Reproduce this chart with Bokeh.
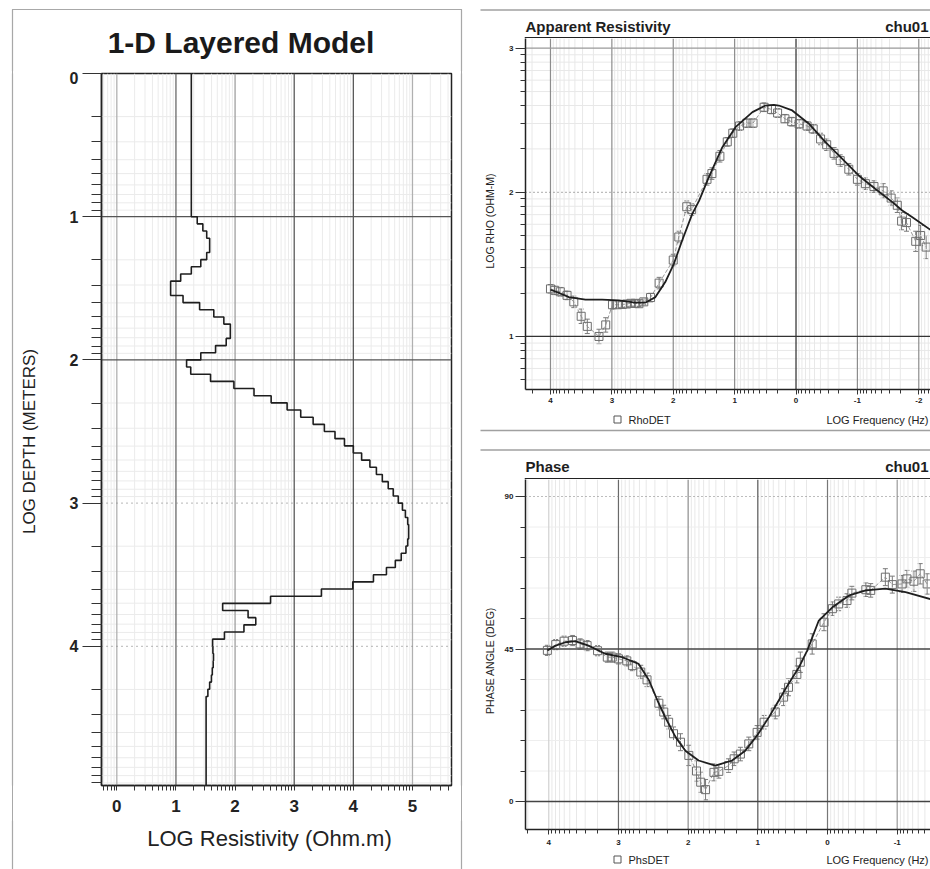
import numpy as np
from bokeh.plotting import figure
from bokeh.layouts import row, column
from bokeh.models import (Range1d, FixedTicker, Whisker, TeeHead, ColumnDataSource,
                          InlineStyleSheet)
from bokeh.core.properties import value
from bokeh.embed import file_html
from bokeh.resources import INLINE

FONT = "Liberation Sans"
INK = "#1e1e1e"
RULE = "#a0a0a0"

# ---------------------------------------------------------------------------
# 1-D layered model: top of each layer (log10 depth, m) and log10 resistivity
# ---------------------------------------------------------------------------
layer_top_log_depth = [
    0.00, 1.00, 1.05, 1.10, 1.15, 1.20, 1.25, 1.30, 1.35, 1.40, 1.45, 1.50,
    1.55, 1.60, 1.65, 1.70, 1.75, 1.80, 1.85, 1.90, 1.95, 2.00, 2.05, 2.10,
    2.15, 2.20, 2.25, 2.30, 2.35, 2.40, 2.45, 2.50, 2.55, 2.60, 2.65, 2.70,
    2.75, 2.80, 2.85, 2.90, 2.95, 3.00, 3.05, 3.10, 3.15, 3.20, 3.25, 3.30,
    3.35, 3.40, 3.45, 3.50, 3.55, 3.60, 3.65, 3.70, 3.75, 3.80, 3.85, 3.90,
    3.95, 4.00, 4.05, 4.10, 4.15, 4.20, 4.25, 4.30, 4.35,
]
layer_log_res = [
    1.26, 1.36, 1.455, 1.52, 1.57, 1.57, 1.52, 1.42, 1.26, 1.08, 0.91, 0.91,
    1.12, 1.40, 1.64, 1.81, 1.92, 1.92, 1.85, 1.67, 1.42, 1.18, 1.25, 1.585,
    1.98, 2.32, 2.61, 2.88, 3.11, 3.32, 3.51, 3.69, 3.85, 4.00, 4.14, 4.28,
    4.39, 4.49, 4.59, 4.675, 4.76, 4.83, 4.88, 4.92, 4.935, 4.935, 4.92, 4.89,
    4.81, 4.71, 4.56, 4.34, 3.99, 3.46, 2.60, 1.79, 2.22, 2.35, 2.15, 1.82,
    1.62, 1.625, 1.635, 1.63, 1.615, 1.60, 1.57, 1.54, 1.51,
]
model_base_log_depth = 4.972

# ---------------------------------------------------------------------------
# Apparent resistivity sounding (log10 frequency, log10 rho, error) and fit
# ---------------------------------------------------------------------------
rho_log_freq = [
    4.00, 3.93, 3.84, 3.73, 3.62, 3.50, 3.40, 3.21, 3.10, 2.99, 2.91, 2.83,
    2.76, 2.69, 2.62, 2.56, 2.48, 2.37, 2.23, 2.00, 1.91, 1.78, 1.70, 1.45,
    1.37, 1.24, 1.12, 1.03, 0.92, 0.80, 0.70, 0.52, 0.40, 0.30, 0.18, 0.07,
    -0.05, -0.18, -0.28, -0.40, -0.50, -0.62, -0.72, -0.86, -1.00, -1.13,
    -1.27, -1.42, -1.55, -1.65, -1.72, -1.80, -1.95, -2.03, -2.12,
]
rho_log_rho = [
    1.33, 1.32, 1.31, 1.285, 1.24, 1.14, 1.07, 1.00, 1.08, 1.22, 1.22, 1.222,
    1.225, 1.23, 1.23, 1.227, 1.24, 1.27, 1.37, 1.53, 1.69, 1.90, 1.88, 2.09,
    2.13, 2.25, 2.35, 2.41, 2.46, 2.48, 2.48, 2.59, 2.575, 2.55, 2.51, 2.49,
    2.475, 2.46, 2.44, 2.37, 2.33, 2.27, 2.22, 2.16, 2.09, 2.06,
    2.04, 2.01, 1.96, 1.91, 1.80, 1.79, 1.66, 1.70, 1.62,
]
rho_err = [
    0.03, 0.03, 0.03, 0.03, 0.04, 0.05, 0.05, 0.05, 0.05, 0.03, 0.02, 0.02,
    0.02, 0.02, 0.02, 0.02, 0.02, 0.03, 0.04, 0.04, 0.04, 0.04, 0.04, 0.04,
    0.04, 0.04, 0.03, 0.03, 0.03, 0.03, 0.03, 0.03, 0.03, 0.03, 0.03, 0.03,
    0.03, 0.03, 0.03, 0.04, 0.04, 0.04, 0.04, 0.04, 0.04, 0.04,
    0.04, 0.05, 0.05, 0.05, 0.06, 0.06, 0.07, 0.07, 0.08,
]
rho_fit_log_freq = [
    4.00, 3.85, 3.70, 3.43, 3.16, 2.89, 2.62, 2.45, 2.29, 2.13, 1.99, 1.855,
    1.69, 1.58, 1.42, 1.20, 0.986, 0.71, 0.50, 0.36, 0.28, 0.062, -0.21,
    -0.48, -0.75, -1.02, -1.29, -1.57, -1.73, -1.89, -2.19,
]
rho_fit_log_rho = [
    1.324, 1.30, 1.273, 1.255, 1.255, 1.25, 1.235, 1.235, 1.273, 1.377, 1.504,
    1.666, 1.85, 1.94, 2.105, 2.313, 2.452, 2.556, 2.602, 2.607, 2.602, 2.568,
    2.476, 2.348, 2.233, 2.117, 2.025, 1.932, 1.874, 1.828, 1.74,
]

# ---------------------------------------------------------------------------
# Phase sounding (log10 frequency, degrees, error) and fit
# ---------------------------------------------------------------------------
phs_log_freq = [
    4.02, 3.90, 3.78, 3.66, 3.55, 3.45, 3.30, 3.16, 3.09, 3.00, 2.88, 2.80,
    2.68, 2.59, 2.42, 2.35, 2.28, 2.21, 2.11, 1.99, 1.88, 1.82, 1.75, 1.63,
    1.56, 1.42, 1.34, 1.25, 1.13, 1.01, 0.91, 0.75, 0.63, 0.56, 0.44, 0.39,
    0.22, 0.05, -0.07, -0.16, -0.28, -0.35, -0.55, -0.62, -0.83, -0.93,
    -1.07, -1.14, -1.24, -1.33, -1.43,
]
phs_deg = [
    44.6, 46.3, 47.3, 47.5, 46.5, 46.0, 44.5, 42.6, 42.6, 42.1, 41.5, 40.1,
    38.2, 35.9, 29.0, 26.4, 23.4, 20.0, 17.5, 13.6, 9.0, 5.7, 3.5, 8.6,
    8.9, 10.6, 12.6, 14.0, 17.0, 20.4, 23.4, 26.4, 30.8, 33.7, 37.5, 41.1,
    46.5, 52.9, 56.9, 58.3, 59.3, 61.5, 62.5, 62.3, 66.2, 64.0,
    64.2, 65.7, 65.0, 67.2, 64.2,
]
phs_err = [
    1.5, 1.5, 1.5, 1.5, 1.5, 1.5, 1.5, 1.5, 1.5, 1.5, 1.5, 1.5,
    2.0, 2.0, 2.0, 2.0, 2.0, 2.0, 2.5, 3.0, 3.0, 3.0, 3.0, 2.5,
    2.0, 2.0, 2.0, 2.0, 2.0, 2.0, 2.0, 2.0, 2.5, 2.5, 2.5, 3.0,
    3.0, 2.5, 2.0, 2.0, 2.0, 2.0, 2.0, 2.0, 2.5, 2.5,
    2.5, 2.5, 3.0, 3.0, 3.0,
]
phs_fit_log_freq = [
    4.02, 3.90, 3.76, 3.62, 3.43, 3.19, 2.95, 2.83, 2.71, 2.56, 2.44, 2.33,
    2.18, 2.04, 1.85, 1.61, 1.37, 1.18, 1.01, 0.84, 0.70, 0.56, 0.41, 0.29,
    0.125, -0.07, -0.31, -0.55, -0.83, -1.12, -1.48,
]
phs_fit_deg = [
    44.6, 46.0, 47.0, 47.3, 46.0, 43.6, 42.6, 41.6, 40.6, 35.7, 29.8, 24.9,
    19.0, 15.0, 12.1, 10.6, 12.1, 15.0, 19.5, 24.9, 29.8, 34.7, 39.6, 44.6,
    53.4, 57.3, 60.8, 62.3, 62.8, 61.8, 59.7,
]

# tick values (exponents of ten, degrees)
res_ticks = [0, 1, 2, 3, 4, 5]
depth_ticks = [0, 1, 2, 3, 4]
freq_ticks_rho = [4, 3, 2, 1, 0, -1, -2]
rho_ticks = [1, 2, 3]
freq_ticks_phs = [4, 3, 2, 1, 0, -1]
phs_ticks = [0, 45, 90]
phs_minor_ticks = [9, 18, 27, 36, 54, 63, 72, 81]

# axis extents
RES_RANGE = (-0.259, 5.66)
DEPTH_RANGE = (4.972, 0.0)        # depth increases downward
RF_RANGE = (4.407, -2.191)        # frequency decreases to the right
RHO_RANGE = (0.632, 3.067)
PF_RANGE = (4.334, -1.478)
DEG_RANGE = (-8.26, 95.02)


def log_minor(lo, hi):
    """Positions of the 2..9 sub-decade ticks on a log10 axis."""
    lo, hi = min(lo, hi), max(lo, hi)
    out = []
    for n in range(int(np.floor(lo)) - 1, int(np.ceil(hi)) + 1):
        for k in range(2, 10):
            v = n + np.log10(k)
            if lo < v < hi:
                out.append(float(v))
    return out


def style_axis(ax, size, tick_out=6, minor_out=4, standoff=4):
    ax.major_label_text_font = FONT
    ax.major_label_text_font_size = size
    ax.major_label_text_font_style = "bold"
    ax.major_label_text_color = "#222222"
    ax.major_tick_in = 0
    ax.minor_tick_in = 0
    ax.major_tick_out = tick_out
    ax.minor_tick_out = minor_out
    ax.major_tick_line_color = "#333333"
    ax.minor_tick_line_color = "#333333"
    ax.axis_line_color = "#222222"
    ax.axis_line_width = 1.5
    ax.major_label_standoff = standoff


def vlines(p, xs, y0, y1, color, width=1.0, dash="solid"):
    p.segment(x0=xs, y0=[y0] * len(xs), x1=xs, y1=[y1] * len(xs),
              line_color=color, line_width=width, line_dash=dash)


def hlines(p, ys, x0, x1, color, width=1.0, dash="solid"):
    p.segment(x0=[x0] * len(ys), y0=ys, x1=[x1] * len(ys), y1=ys,
              line_color=color, line_width=width, line_dash=dash)


def plot_figure(w, h, xr, yr, left, right, top, bottom):
    p = figure(width=w, height=h, x_range=Range1d(*xr), y_range=Range1d(*yr),
               output_backend="svg", toolbar_location=None, min_border_left=left,
               min_border_right=right, min_border_top=top, min_border_bottom=bottom)
    p.xgrid.visible = False
    p.ygrid.visible = False
    p.outline_line_color = None
    p.background_fill_color = "white"
    p.border_fill_color = "white"
    return p


def strip(w, h, top=0, bottom=0):
    """A plain drawing strip; coordinates are pixels from the frame's top-left."""
    fh = h - top - bottom
    s = figure(width=w, height=h, x_range=Range1d(0, w), y_range=Range1d(fh, 0),
               x_axis_type=None, y_axis_type=None, toolbar_location=None,
               output_backend="svg", min_border_left=0, min_border_right=0,
               min_border_top=top, min_border_bottom=bottom)
    s.outline_line_color = None
    s.background_fill_color = "white"
    s.border_fill_color = "white"
    return s


def strip_text(s, x, y, text, size, bold=False, align="left", baseline="middle",
               angle=0.0, color=INK):
    s.text(x=[x], y=[y], text=[text], text_font=value(FONT), text_font_size=size,
           text_font_style="bold" if bold else "normal", text_align=align,
           text_baseline=baseline, angle=angle, text_color=color)


def strip_line(s, x0, y0, x1, y1, color=RULE, width=1.5):
    s.segment(x0=[x0], y0=[y0], x1=[x1], y1=[y1], line_color=color, line_width=width)


def sounding(p, f, v, err, fit_f, fit_v):
    src = ColumnDataSource(dict(f=f, v=v, lo=[a - e for a, e in zip(v, err)],
                                hi=[a + e for a, e in zip(v, err)]))
    p.add_layout(Whisker(source=src, base="f", lower="lo", upper="hi", dimension="height",
                         line_color="#7a7a7a", line_width=1,
                         upper_head=TeeHead(size=5, line_color="#7a7a7a"),
                         lower_head=TeeHead(size=5, line_color="#7a7a7a")))
    p.line("f", "v", source=src, line_color="#8a8a8a", line_width=0.9, line_dash="4 2")
    p.scatter("f", "v", source=src, marker="square", size=8, fill_color=None,
              line_color="#6e6e6e", line_width=1)
    p.line(fit_f, fit_v, line_color=INK, line_width=1.8)


# ===========================================================================
# Left column: 1-D layered model
# ===========================================================================
lm = plot_figure(395, 749, RES_RANGE, DEPTH_RANGE, left=41, right=4, top=2, bottom=35)
lm.outline_line_color = "#222222"
lm.outline_line_width = 1.5

yax = lm.yaxis[0]
yax.ticker = FixedTicker(ticks=depth_ticks, minor_ticks=log_minor(*DEPTH_RANGE))
style_axis(yax, "16px", tick_out=19, minor_out=10, standoff=4)
xax = lm.xaxis[0]
xax.ticker = FixedTicker(ticks=res_ticks, minor_ticks=log_minor(*RES_RANGE))
style_axis(xax, "17px", tick_out=5, minor_out=5, standoff=9)

vlines(lm, log_minor(*RES_RANGE), DEPTH_RANGE[1], DEPTH_RANGE[0], "#ebebeb")
hlines(lm, log_minor(*DEPTH_RANGE), RES_RANGE[0], RES_RANGE[1], "#ebebeb")
for t, c in zip(res_ticks, ["#b0b0b0", "#6a6a6a", "#a0a0a0", "#5a5a5a", "#5a5a5a", "#b0b0b0"]):
    vlines(lm, [t], DEPTH_RANGE[1], DEPTH_RANGE[0], c, 1.3)
hlines(lm, [1, 2], RES_RANGE[0], RES_RANGE[1], "#555555", 1.3)
hlines(lm, [3, 4], RES_RANGE[0], RES_RANGE[1], "#8a8a8a", 1.2, dash="1 4")

# stepped resistivity-depth profile
step_x, step_y = [], []
bases = layer_top_log_depth[1:] + [model_base_log_depth]
for top, base, r in zip(layer_top_log_depth, bases, layer_log_res):
    step_x += [r, r]
    step_y += [top, base]
lm.line(step_x, step_y, line_color=INK, line_width=1.6)

lhead = strip(465, 71)
strip_text(lhead, 240.5, 41.7, "1-D Layered Model", "30px", bold=True,
           align="center", baseline="alphabetic", color="#1a1a1a")
strip_line(lhead, 12, 9, 461, 9, width=1.2)
strip_line(lhead, 12, 9, 12, 71, width=1.2)
strip_line(lhead, 461, 9, 461, 71, width=1.2)

lleft = strip(60, 749, top=2, bottom=35)
strip_line(lleft, 12, -2, 12, 747, width=1.2)
strip_text(lleft, 29, 368, "LOG DEPTH (METERS)", "17px", align="center",
           angle=np.pi / 2, color="#222222")

lright = strip(10, 749, top=2, bottom=35)
strip_line(lright, 6, -2, 6, 747, width=1.2)

lfoot = strip(465, 49)
strip_text(lfoot, 269, 18, "LOG Resistivity (Ohm.m)", "22px", align="center",
           color="#222222")
strip_line(lfoot, 12, 0, 12, 49, width=1.2)
strip_line(lfoot, 461, 0, 461, 49, width=1.2)

# thin frame around the whole model panel
panel_box = InlineStyleSheet(css="""
:host { position: relative; }
:host::after {
  content: ""; position: absolute; left: 12px; top: 9px; width: 450px; height: 860px;
  border: 1px solid #a8a8a8; border-bottom: none; box-sizing: border-box;
  pointer-events: none; z-index: 10;
}
""")
left_col = column(lhead, row(lleft, lm, lright, spacing=0), lfoot, spacing=0,
                  stylesheets=[panel_box])

# ===========================================================================
# Right column, top: apparent resistivity
# ===========================================================================
rp = plot_figure(433, 371, RF_RANGE, RHO_RANGE, left=28, right=0, top=0, bottom=20)
ax = rp.yaxis[0]
ax.ticker = FixedTicker(ticks=rho_ticks, minor_ticks=log_minor(*RHO_RANGE))
style_axis(ax, "8px", tick_out=10, minor_out=5, standoff=2)
ax = rp.xaxis[0]
ax.ticker = FixedTicker(ticks=freq_ticks_rho, minor_ticks=log_minor(*RF_RANGE))
ax.major_label_overrides = {t: str(t) for t in freq_ticks_rho}
style_axis(ax, "8px", tick_out=5, minor_out=4, standoff=3)

vlines(rp, log_minor(*RF_RANGE), RHO_RANGE[0], RHO_RANGE[1], "#e8e8e8")
hlines(rp, log_minor(*RHO_RANGE), RF_RANGE[0], RF_RANGE[1], "#e8e8e8")
for t in freq_ticks_rho:
    vlines(rp, [t], RHO_RANGE[0], RHO_RANGE[1], "#2a2a2a" if t == 0 else "#8c8c8c", 1.2)
hlines(rp, [3], RF_RANGE[0], RF_RANGE[1], "#9a9a9a", 1.3)
hlines(rp, [2], RF_RANGE[0], RF_RANGE[1], "#7a7a7a", 1.2, dash="1 3")
hlines(rp, [1], RF_RANGE[0], RF_RANGE[1], "#333333", 1.3)
sounding(rp, rho_log_freq, rho_log_rho, rho_err, rho_fit_log_freq, rho_fit_log_rho)

rhead = strip(465, 38)
strip_line(rhead, 15, 9.5, 465, 9.5)
strip_text(rhead, 60, 26, "Apparent Resistivity", "15px", bold=True, baseline="alphabetic")
strip_text(rhead, 463, 26, "chu01", "15px", bold=True, align="right", baseline="alphabetic")
strip_line(rhead, 59.25, 37.25, 465, 37.25, color="#222222")

rylab = strip(32, 371, top=0, bottom=20)
strip_text(rylab, 24, 182.5, "LOG RHO (OHM-M)", "10.5px", align="center",
           angle=np.pi / 2, color="#222222")

rfoot = strip(465, 31)
rfoot.scatter(x=[152], y=[10], marker="square", size=7, fill_color=None,
              line_color="#555555", line_width=1)
strip_text(rfoot, 163, 10, "RhoDET", "11px", color="#222222")
strip_text(rfoot, 463, 10, "LOG Frequency (Hz)", "11px", align="right", color="#222222")
strip_line(rfoot, 15, 21, 465, 21)

# ===========================================================================
# Right column, bottom: phase
# ===========================================================================
pp = plot_figure(433, 370, PF_RANGE, DEG_RANGE, left=28, right=0, top=0, bottom=20)
ax = pp.yaxis[0]
ax.ticker = FixedTicker(ticks=phs_ticks, minor_ticks=phs_minor_ticks)
style_axis(ax, "8px", tick_out=10, minor_out=5, standoff=2)
ax = pp.xaxis[0]
ax.ticker = FixedTicker(ticks=freq_ticks_phs, minor_ticks=log_minor(*PF_RANGE))
ax.major_label_overrides = {t: str(t) for t in freq_ticks_phs}
style_axis(ax, "8px", tick_out=5, minor_out=4, standoff=5)

vlines(pp, log_minor(*PF_RANGE), DEG_RANGE[0], DEG_RANGE[1], "#e8e8e8")
hlines(pp, phs_minor_ticks, PF_RANGE[0], PF_RANGE[1], "#eeeeee")
for t, c in zip(freq_ticks_phs, ["#d0d0d0", "#6a6a6a", "#8c8c8c", "#555555", "#777777", "#9a9a9a"]):
    vlines(pp, [t], DEG_RANGE[0], DEG_RANGE[1], c, 1.2)
hlines(pp, [90], PF_RANGE[0], PF_RANGE[1], "#7a7a7a", 1.2, dash="1 3")
hlines(pp, [45, 0], PF_RANGE[0], PF_RANGE[1], "#444444", 1.3)
sounding(pp, phs_log_freq, phs_deg, phs_err, phs_fit_log_freq, phs_fit_deg)

phead = strip(465, 39)
strip_line(phead, 15, 9.5, 465, 9.5)
strip_text(phead, 60, 26, "Phase", "15px", bold=True, baseline="alphabetic")
strip_text(phead, 463, 26, "chu01", "15px", bold=True, align="right", baseline="alphabetic")
strip_line(phead, 59.25, 38.25, 465, 38.25, color="#222222")

pylab = strip(32, 370, top=0, bottom=20)
strip_text(pylab, 24, 181, "PHASE ANGLE (DEG)", "10.5px", align="center",
           angle=np.pi / 2, color="#222222")

pfoot = strip(465, 20)
pfoot.scatter(x=[152], y=[10], marker="square", size=7, fill_color=None,
              line_color="#555555", line_width=1)
strip_text(pfoot, 163, 10, "PhsDET", "11px", color="#222222")
strip_text(pfoot, 463, 10, "LOG Frequency (Hz)", "11px", align="right", color="#222222")

right_col = column(rhead, row(rylab, rp, spacing=0), rfoot,
                   phead, row(pylab, pp, spacing=0), pfoot, spacing=0)

layout = row(left_col, right_col, spacing=0)
open("out.html", "w").write(file_html(layout, INLINE))
